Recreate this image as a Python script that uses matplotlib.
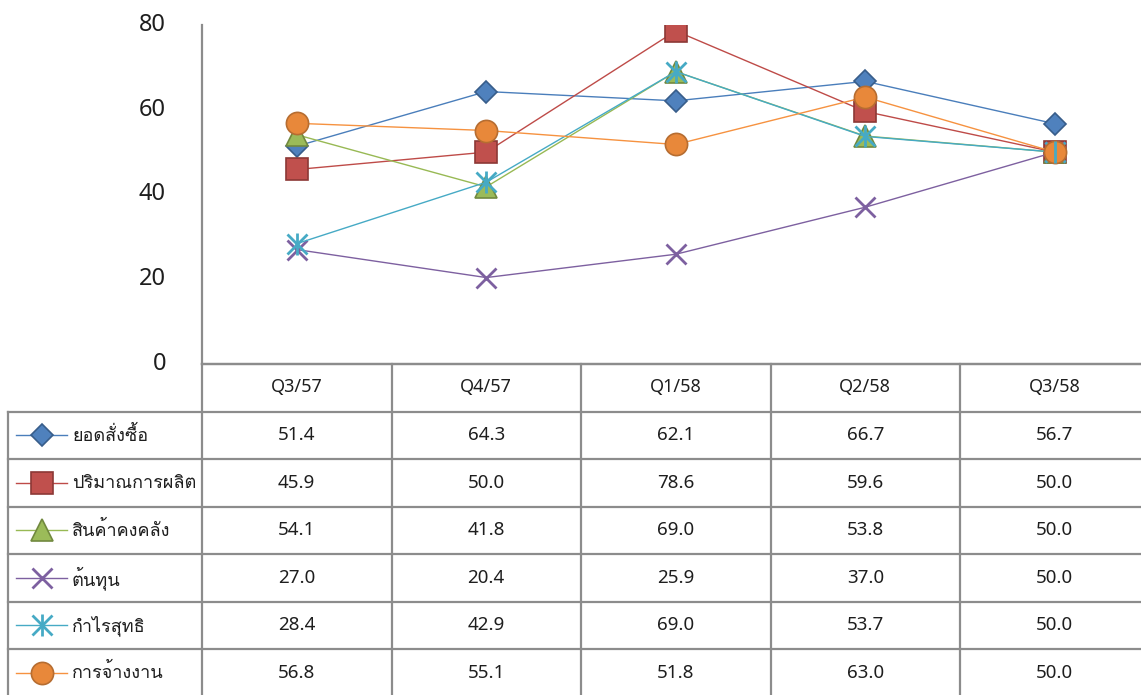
import matplotlib
matplotlib.use("Agg")
import matplotlib.pyplot as plt
from matplotlib import font_manager as fm
from matplotlib.ft2font import FT2Font
from matplotlib.transforms import ScaledTranslation

# ---------------- data ----------------
quarters = ["Q3/57", "Q4/57", "Q1/58", "Q2/58", "Q3/58"]
series_names = ["ยอดสั่งซื้อ", "ปริมาณการผลิต", "สินค้าคงคลัง", "ต้นทุน", "กำไรสุทธิ", "การจ้างงาน"]
orders = [51.4, 64.3, 62.1, 66.7, 56.7]
production = [45.9, 50.0, 78.6, 59.6, 50.0]
inventory = [54.1, 41.8, 69.0, 53.8, 50.0]
cost = [27.0, 20.4, 25.9, 37.0, 50.0]
net_profit = [28.4, 42.9, 69.0, 53.7, 50.0]
employment = [56.8, 55.1, 51.8, 63.0, 50.0]
y_ticks = [0, 20, 40, 60, 80]

series_values = [orders, production, inventory, cost, net_profit, employment]

# ---------------- fonts ----------------
thai_font = None
for f in fm.fontManager.ttflist:
    try:
        if 0x0E22 in FT2Font(f.fname).get_charmap():
            thai_font = f.name
            break
    except Exception:
        pass
families = ["Noto Sans"] + ([thai_font] if thai_font else []) + ["DejaVu Sans"]
plt.rcParams["font.family"] = families

# ---------------- styles ----------------
styles = [
    dict(color="#4A7EBB", marker="D", ms=11.5, mfc="#4F81BD", mec="#385D8A"),
    dict(color="#BE4B48", marker="s", ms=15.5, mfc="#C0504D", mec="#8C3836"),
    dict(color="#98B954", marker="^", ms=16, mfc="#9BBB59", mec="#71893F"),
    dict(color="#7D60A0", marker="x", ms=14, mfc="#8064A2", mec="#7D60A0"),
    dict(color="#46AAC5", marker="x", ms=14, mfc="#4BACC6", mec="#46AAC5"),
    dict(color="#F69240", marker="o", ms=16, mfc="#E8883A", mec="#B66D31"),
]

W, H = 1141, 695
fig = plt.figure(figsize=(W / 100, H / 100), dpi=100)

# geometry in pixels
left_px, top_px, bottom_px = 202, 25, 364
colw = 189.5
rowh = 47.5
table_left = 8
grid_c = "#8C8C8C"
txt_c = "#1E1E1E"

ax = fig.add_axes([left_px / W, (H - bottom_px) / H, 5 * colw / W, (bottom_px - top_px) / H])
x = list(range(len(quarters)))
for vals, st in zip(series_values, styles):
    ax.plot(x, vals, color=st["color"], lw=1.0, marker=st["marker"], ms=st["ms"],
            mfc=st["mfc"], mec=st["mec"], mew=1.2 if st["marker"] != "x" else 2.0,
            zorder=3)
# extra vertical bar for the asterisk marker of net profit
ax.plot(x, net_profit, ls="none", marker="|", ms=16, mec=styles[4]["mec"], mew=2.0, zorder=3)

ax.set_xlim(-0.5, len(quarters) - 0.5)
ax.set_ylim(0, 80)
ax.set_yticks(y_ticks)
ax.set_yticklabels([str(t) for t in y_ticks], fontsize=17, color=txt_c)
ax.tick_params(axis="y", length=0, pad=26)
shift = ScaledTranslation(0, 3 / 100, fig.dpi_scale_trans)
for lab in ax.get_yticklabels():
    lab.set_transform(lab.get_transform() + shift)
ax.set_xticks([])
for s in ["top", "right"]:
    ax.spines[s].set_visible(False)
for s in ["left", "bottom"]:
    ax.spines[s].set_color(grid_c)
    ax.spines[s].set_linewidth(1.6)
ax.patch.set_alpha(0)

# ---------------- data table (overlay in pixel units) ----------------
tax = fig.add_axes([0, 0, 1, 1], zorder=-1)
tax.set_xlim(0, W)
tax.set_ylim(H, 0)
tax.axis("off")

n_rows = len(series_names)
table_bottom = bottom_px + rowh * (n_rows + 1)
right_px = left_px + 5 * colw
tax.plot([left_px, right_px], [bottom_px, bottom_px], color=grid_c, lw=1.6)
for r in range(1, n_rows + 2):
    yy = bottom_px + r * rowh
    tax.plot([table_left, right_px], [yy, yy], color=grid_c, lw=1.6)
tax.plot([table_left, table_left], [bottom_px + rowh, table_bottom], color=grid_c, lw=1.6)
for c in range(0, 6):
    xx = left_px + c * colw
    tax.plot([xx, xx], [bottom_px, table_bottom], color=grid_c, lw=1.6)

for i, q in enumerate(quarters):
    tax.text(left_px + (i + 0.5) * colw, bottom_px + rowh / 2 - 1, q,
             ha="center", va="center", fontsize=13, color=txt_c)

for r, (name, vals, st) in enumerate(zip(series_names, series_values, styles)):
    yc = bottom_px + (r + 1.5) * rowh
    tax.plot([16, 67], [yc, yc], color=st["color"], lw=1.0)
    tax.plot([41.5], [yc], ls="none", marker=st["marker"], ms=st["ms"], mfc=st["mfc"],
             mec=st["mec"], mew=1.2 if st["marker"] != "x" else 2.0)
    if r == 4:
        tax.plot([41.5], [yc], ls="none", marker="|", ms=16, mec=st["mec"], mew=2.0)
    tax.text(72, yc, name, ha="left", va="center", fontsize=13, color=txt_c)
    for i, v in enumerate(vals):
        tax.text(left_px + (i + 0.5) * colw, yc, f"{v:.1f}",
                 ha="center", va="center", fontsize=13.5, color=txt_c)

fig.savefig("out.png", dpi=100)
